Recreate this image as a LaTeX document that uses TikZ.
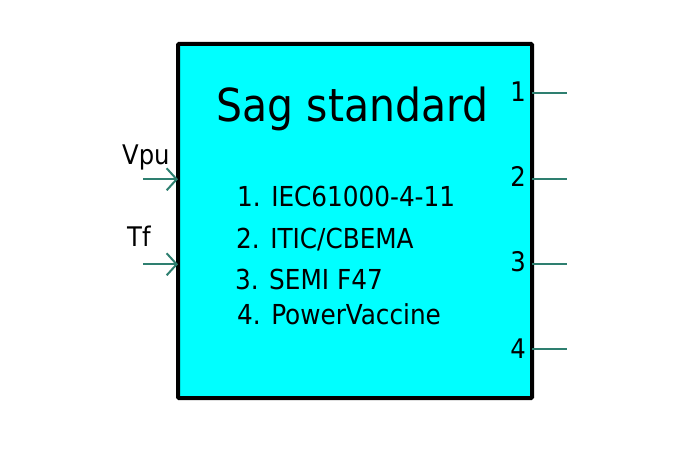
\documentclass[tikz,border=0pt]{standalone}
\usepackage{fontspec}
\setmainfont{DejaVu Sans Condensed}
\usetikzlibrary{arrows.meta}
\definecolor{boxfill}{HTML}{00FFFF}
\definecolor{port}{HTML}{2E7F70}
\tikzset{
  blockbox/.style={draw=black, line width=4pt, fill=boxfill, rounded corners=1pt,
    minimum width=354pt, minimum height=354pt, inner sep=0pt, outer sep=0pt},
  portline/.style={draw=port, line width=2pt},
  inarrow/.style={portline, -{Straight Barb[length=10pt,width=22pt,line width=2pt]}},
  titletext/.style={font=\fontsize{45.5}{50}\selectfont, inner sep=0pt, anchor=base},
  listtext/.style={font=\fontsize{27.5}{30}\selectfont, inner sep=0pt, anchor=base west},
  pintext/.style={font=\fontsize{27}{30}\selectfont, inner sep=0pt},
}
\begin{document}
\begin{tikzpicture}[x=1pt,y=1pt]
\useasboundingbox[fill=white] (0,0) rectangle (700,466);
\node[blockbox] (box) at (355,245) {};
\node[titletext] (title) at (352.5,344) {Sag standard};
\node[listtext] (l1) at (237,259) {1. IEC61000-4-11};
\node[listtext] (l2) at (236,218) {2. ITIC/CBEMA};
\node[listtext] (l3) at (235,177) {3. SEMI F47};
\node[listtext] (l4) at (237,142) {4. PowerVaccine};
% inputs
\coordinate (in1) at (143,286.7);
\coordinate (in2) at (143,201.7);
\draw[inarrow] (in1) -- (box.west |- in1);
\draw[inarrow] (in2) -- (box.west |- in2);
\node[pintext, anchor=base west] (vpu) at (122,301) {Vpu};
\node[pintext, anchor=base west] (tf) at (127,219) {Tf};
% outputs
\coordinate (o1) at (567,373);
\coordinate (o2) at (567,287);
\coordinate (o3) at (567,202);
\coordinate (o4) at (567,117);
\draw[portline] (box.east |- o1) -- (o1);
\draw[portline] (box.east |- o2) -- (o2);
\draw[portline] (box.east |- o3) -- (o3);
\draw[portline] (box.east |- o4) -- (o4);
\node[pintext, anchor=base east] (n1) at (526,364) {1};
\node[pintext, anchor=base east] (n2) at (526,279) {2};
\node[pintext, anchor=base east] (n3) at (526,195) {3};
\node[pintext, anchor=base east] (n4) at (526,108) {4};
\end{tikzpicture}
\end{document}
